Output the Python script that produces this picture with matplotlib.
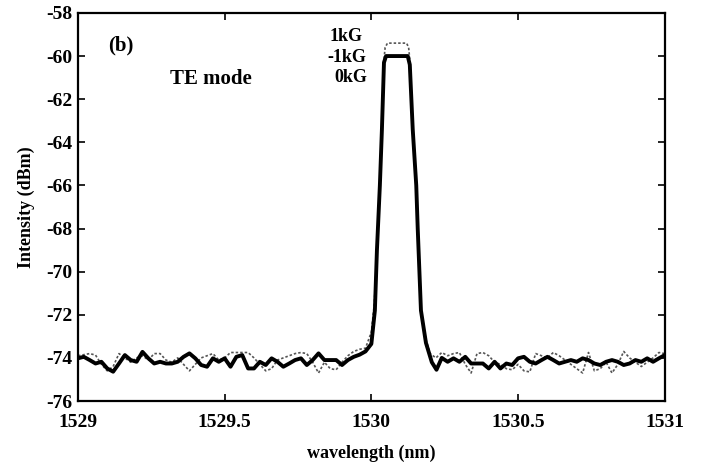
import numpy as np
import matplotlib
matplotlib.use('Agg')
import matplotlib.pyplot as plt

### TE mode transmission spectrum, 0kG vs +/-1kG ###

# baseline wavelengths (nm)
wl_left = [1529.00, 1529.02, 1529.04, 1529.06, 1529.08, 1529.10, 1529.12, 1529.14,
           1529.16, 1529.18, 1529.20, 1529.22, 1529.24, 1529.26, 1529.28, 1529.30,
           1529.32, 1529.34, 1529.36, 1529.38, 1529.40, 1529.42, 1529.44, 1529.46,
           1529.48, 1529.50, 1529.52, 1529.54, 1529.56, 1529.58, 1529.60, 1529.62,
           1529.64, 1529.66, 1529.68, 1529.70, 1529.72, 1529.74, 1529.76, 1529.78,
           1529.80, 1529.82, 1529.84, 1529.86, 1529.88, 1529.90, 1529.92, 1529.94,
           1529.96]
wl_right = [1530.24, 1530.26, 1530.28, 1530.30, 1530.32, 1530.34, 1530.36, 1530.38,
            1530.40, 1530.42, 1530.44, 1530.46, 1530.48, 1530.50, 1530.52, 1530.54,
            1530.56, 1530.58, 1530.60, 1530.62, 1530.64, 1530.66, 1530.68, 1530.70,
            1530.72, 1530.74, 1530.76, 1530.78, 1530.80, 1530.82, 1530.84, 1530.86,
            1530.88, 1530.90, 1530.92, 1530.94, 1530.96, 1530.98, 1531.00]

# 0kG (solid)
solid_left = [-74.02, -73.95, -74.10, -74.26, -74.18, -74.49, -74.64, -74.26,
              -73.87, -74.10, -74.18, -73.72, -74.02, -74.26, -74.18, -74.26,
              -74.26, -74.18, -73.95, -73.79, -74.02, -74.33, -74.41, -74.02,
              -74.18, -74.02, -74.41, -73.95, -73.87, -74.49, -74.49, -74.18,
              -74.33, -74.02, -74.18, -74.41, -74.26, -74.10, -74.02, -74.33,
              -74.10, -73.79, -74.10, -74.10, -74.10, -74.33, -74.10, -73.95,
              -73.85]
solid_peak_wl = [1529.98, 1530.00, 1530.012, 1530.019, 1530.029, 1530.036, 1530.043,
                 1530.05, 1530.124, 1530.131, 1530.141, 1530.153, 1530.158, 1530.169,
                 1530.186, 1530.206, 1530.222]
solid_peak_db = [-73.70, -73.35, -71.8, -69.0, -66.0, -63.4, -60.3,
                 -60.0, -60.0, -60.4, -63.4, -66.0, -68.0, -71.8,
                 -73.3, -74.2, -74.55]
solid_right = [-74.00, -74.18, -74.02, -74.18, -73.95, -74.26, -74.26, -74.26,
               -74.49, -74.18, -74.49, -74.26, -74.33, -74.02, -73.95, -74.18,
               -74.26, -74.10, -73.95, -74.10, -74.26, -74.18, -74.10, -74.18,
               -74.02, -74.10, -74.26, -74.33, -74.18, -74.10, -74.18, -74.33,
               -74.26, -74.10, -74.18, -74.02, -74.18, -74.02, -73.87]

# +/-1kG (dotted)
dash_left = [-73.90, -73.85, -73.80, -73.87, -74.30, -74.60, -74.40, -73.80,
             -74.00, -74.20, -74.00, -73.90, -74.10, -73.80, -73.80, -74.10,
             -74.20, -74.00, -74.30, -74.60, -74.30, -74.00, -73.90, -73.80,
             -74.10, -74.00, -73.75, -73.75, -73.75, -73.75, -74.00, -74.30,
             -74.60, -74.50, -74.10, -74.00, -73.90, -73.80, -73.75, -73.80,
             -74.20, -74.70, -74.20, -74.50, -74.55, -74.20, -73.90, -73.70,
             -73.60]
dash_peak_wl = [1529.98, 1530.00, 1530.01, 1530.02, 1530.03, 1530.037, 1530.042,
                1530.047, 1530.055, 1530.12, 1530.127, 1530.132, 1530.14, 1530.152,
                1530.16, 1530.17, 1530.185, 1530.20, 1530.22]
dash_peak_db = [-73.55, -72.8, -71.5, -68.8, -65.8, -63.0, -60.3,
                -59.6, -59.4, -59.4, -59.6, -60.3, -63.0, -66.0,
                -68.3, -71.8, -73.1, -73.8, -74.0]
dash_right = [-73.75, -73.90, -73.80, -73.75, -74.30, -74.70, -73.80, -73.75,
              -73.90, -74.20, -74.30, -74.50, -74.55, -74.30, -74.60, -74.65,
              -73.80, -73.90, -74.00, -73.75, -73.90, -74.10, -74.30, -74.50,
              -74.70, -73.75, -74.60, -74.50, -74.20, -74.70, -74.30, -73.70,
              -74.00, -74.20, -74.40, -74.20, -74.00, -73.75, -73.80]

xticks = [1529, 1529.5, 1530, 1530.5, 1531]
xtick_labels = ['1529', '1529.5', '1530', '1530.5', '1531']
yticks = [-76, -74, -72, -70, -68, -66, -64, -62, -60, -58]

plt.rcParams['font.family'] = ['Liberation Serif', 'DejaVu Serif']
plt.rcParams['font.weight'] = 'bold'
plt.rcParams['axes.unicode_minus'] = False

fig = plt.figure(figsize=(7.02, 4.62), dpi=100)
ax = fig.add_axes([0.111, 0.132, 0.836, 0.840])

dash_wl = wl_left + dash_peak_wl + wl_right
dash_db = dash_left + dash_peak_db + dash_right
solid_wl = wl_left + solid_peak_wl + wl_right
solid_db = solid_left + solid_peak_db + solid_right

ax.plot(dash_wl, dash_db, color='#555555', linestyle=(0, (1.5, 1.2)), linewidth=1.2)
ax.plot(solid_wl, solid_db, color='black', linewidth=2.8, solid_joinstyle='round')

ax.set_xlim(1529, 1531)
ax.set_ylim(-76, -58)
ax.set_xticks(xticks)
ax.set_xticklabels(xtick_labels)
ax.set_yticks(yticks)
ax.tick_params(direction='in', top=True, right=True, length=5, width=1.2,
               labelsize=14)
ax.tick_params(axis='x', pad=9)
ax.tick_params(axis='y', pad=4)
for lab in ax.get_xticklabels() + ax.get_yticklabels():
    lab.set_fontweight('bold')
for s in ax.spines.values():
    s.set_linewidth(1.6)

ax.set_xlabel('wavelength (nm)', fontsize=13, fontweight='bold', labelpad=10)
ax.set_ylabel('Intensity (dBm)', fontsize=13, fontweight='bold', labelpad=8)

ax.text(1529.103, -59.5, '(b)', fontsize=15, fontweight='bold', va='center')
ax.text(1529.315, -61.05, 'TE mode', fontsize=15, fontweight='bold', va='center')
ax.text(1529.915, -59.1, '1kG', fontsize=13, fontweight='bold', ha='center', va='center')
ax.text(1529.915, -60.05, '-1kG', fontsize=13, fontweight='bold', ha='center', va='center')
ax.text(1529.93, -61.0, '0kG', fontsize=13, fontweight='bold', ha='center', va='center')

fig.savefig('out.png', dpi=100)
